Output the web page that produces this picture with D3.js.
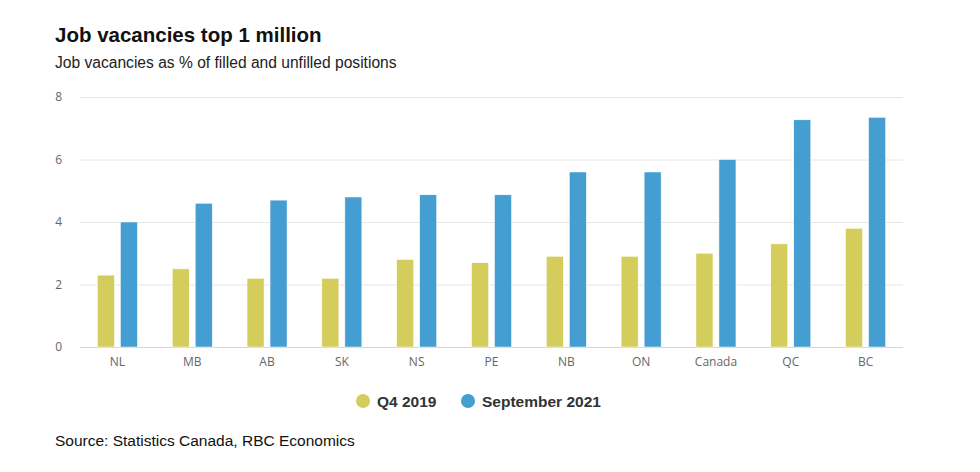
<!DOCTYPE html>
<html>
<head>
<meta charset="utf-8">
<script src="https://cdn.jsdelivr.net/npm/d3@7"></script>
<style>
  body { margin: 0; background: #fff; }
  svg text { font-family: "Liberation Sans", Arial, sans-serif; }
  .tick text { font-family: "Open Sans", sans-serif; }
</style>
</head>
<body>
<script>
  var WIDTH = 980;
  var HEIGHT = 472;

  // Data
  var categories = ["NL", "MB", "AB", "SK", "NS", "PE", "NB", "ON", "Canada", "QC", "BC"];
  var q42019 = [2.3, 2.5, 2.2, 2.2, 2.8, 2.7, 2.9, 2.9, 3.0, 3.3, 3.8];
  var sep2021 = [4.0, 4.6, 4.7, 4.8, 4.87, 4.87, 5.6, 5.6, 6.0, 7.27, 7.35];
  var seriesNames = ["Q4 2019", "September 2021"];
  var colors = ["#d4cd5c", "#449ed2"];
  var yTicks = [0, 2, 4, 6, 8];

  var margin = { left: 80, right: 77, top: 97, bottom: 125 };
  var plotW = WIDTH - margin.left - margin.right;
  var plotH = HEIGHT - margin.top - margin.bottom;

  var svg = d3.select("body").append("svg")
      .attr("width", WIDTH)
      .attr("height", HEIGHT);

  svg.append("text")
      .attr("x", 55).attr("y", 42)
      .style("font-size", "20.5px")
      .style("font-weight", "bold")
      .style("fill", "#111")
      .text("Job vacancies top 1 million");

  svg.append("text")
      .attr("x", 55).attr("y", 68)
      .style("font-size", "15.6px")
      .style("fill", "#222")
      .text("Job vacancies as % of filled and unfilled positions");

  var g = svg.append("g")
      .attr("transform", "translate(" + margin.left + "," + margin.top + ")");

  var x = d3.scaleBand().domain(categories).range([0, plotW]);
  var y = d3.scaleLinear().domain([0, 8]).range([plotH, 0]);

  // grid lines
  g.selectAll(".grid").data(yTicks).enter().append("line")
      .attr("class", "grid")
      .attr("x1", 0).attr("x2", plotW)
      .attr("y1", function(d) { return y(d) + 0.5; })
      .attr("y2", function(d) { return y(d) + 0.5; })
      .style("stroke", function(d) { return d === 0 ? "#ccd6eb" : "#e6e6e6"; })
      .style("stroke-width", 1);

  // y axis labels
  var yAxis = g.append("g")
      .call(d3.axisLeft(y).tickValues(yTicks).tickSize(0).tickPadding(18));
  yAxis.select(".domain").remove();
  yAxis.selectAll("text").style("font-size", "12px").style("fill", "#666");

  // x axis labels
  var xAxis = g.append("g")
      .attr("transform", "translate(0," + plotH + ")")
      .call(d3.axisBottom(x).tickSize(0).tickPadding(10));
  xAxis.select(".domain").remove();
  xAxis.selectAll("text").style("font-size", "12px").style("fill", "#666");

  var barW = 17;
  var offset = 11.5;
  var series = [q42019, sep2021];

  series.forEach(function(vals, s) {
    g.selectAll(".bar" + s).data(vals).enter().append("rect")
        .attr("class", "bar" + s)
        .attr("x", function(d, i) {
          return x(categories[i]) + x.bandwidth() / 2 + (s === 0 ? -offset : offset) - barW / 2;
        })
        .attr("y", function(d) { return y(d); })
        .attr("width", barW)
        .attr("height", function(d) { return plotH - y(d); })
        .style("fill", colors[s])
        .style("stroke", "#fff")
        .style("stroke-width", 0.5);
  });

  // legend
  var legendX = [363, 468];
  var legend = svg.selectAll(".legend").data(seriesNames).enter().append("g")
      .attr("class", "legend")
      .attr("transform", function(d, i) { return "translate(" + legendX[i] + ",401)"; });
  legend.append("circle")
      .attr("r", 7)
      .style("fill", function(d, i) { return colors[i]; });
  legend.append("text")
      .attr("x", 14).attr("y", 5.5)
      .style("font-size", "15.5px")
      .style("font-weight", "bold")
      .style("fill", "#333")
      .text(function(d) { return d; });

  svg.append("text")
      .attr("x", 55).attr("y", 446)
      .style("font-size", "15.5px")
      .style("fill", "#111")
      .text("Source: Statistics Canada, RBC Economics");
</script>
</body>
</html>
